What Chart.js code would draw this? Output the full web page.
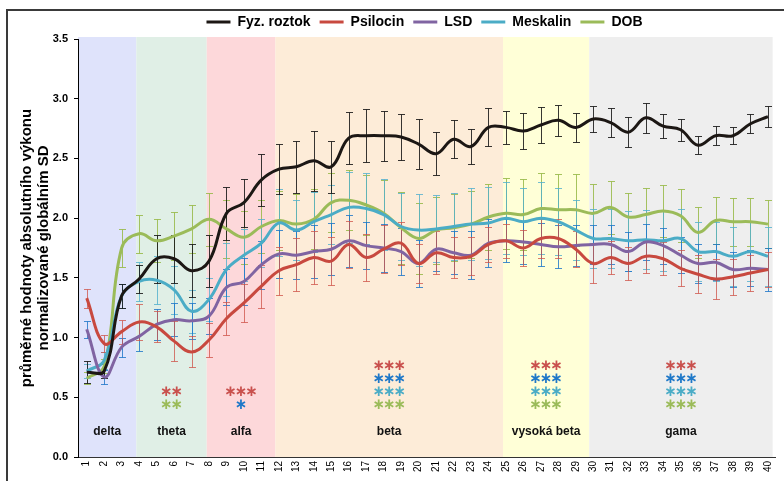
<!DOCTYPE html>
<html>
<head>
<meta charset="UTF-8">
<title>EEG spektrum</title>
<script src="https://cdn.jsdelivr.net/npm/chart.js"></script>
<style>
	body { margin: 0; background: #fff; }
	#chartArea { width: 784px; height: 481px; }
</style>
</head>
<body>
<div id="chartArea">
	<canvas id="myChart" width="784" height="481"></canvas>
</div>
<script>
// osa x - frekvence (Hz)
var xLabels = [1, 2, 3, 4, 5, 6, 7, 8, 9, 10, 11, 12, 13, 14, 15, 16, 17, 18, 19, 20,
	21, 22, 23, 24, 25, 26, 27, 28, 29, 30, 31, 32, 33, 34, 35, 36, 37, 38, 39, 40];

var seriesNames = ['Fyz. roztok', 'Psilocin', 'LSD', 'Meskalin', 'DOB'];

var fyzRoztok = [0.71, 0.72, 1.35, 1.49, 1.66, 1.66, 1.56, 1.64, 2.04, 2.13, 2.32, 2.41, 2.43, 2.48, 2.43, 2.67, 2.69, 2.69, 2.68, 2.62,
	2.54, 2.66, 2.60, 2.76, 2.76, 2.73, 2.78, 2.82, 2.76, 2.83, 2.80, 2.72, 2.84, 2.77, 2.74, 2.61, 2.69, 2.69, 2.79, 2.85];
var psilocin = [1.33, 0.95, 1.05, 1.13, 1.09, 0.97, 0.88, 0.98, 1.16, 1.29, 1.43, 1.56, 1.61, 1.67, 1.64, 1.78, 1.67, 1.74, 1.79, 1.62,
	1.71, 1.67, 1.68, 1.78, 1.81, 1.75, 1.83, 1.83, 1.74, 1.62, 1.67, 1.62, 1.68, 1.66, 1.58, 1.53, 1.49, 1.51, 1.54, 1.57];
var lsd = [1.07, 0.67, 0.92, 1.01, 1.11, 1.15, 1.14, 1.18, 1.42, 1.47, 1.61, 1.70, 1.69, 1.72, 1.74, 1.81, 1.77, 1.75, 1.72, 1.62,
	1.74, 1.71, 1.69, 1.79, 1.81, 1.80, 1.78, 1.76, 1.77, 1.78, 1.78, 1.72, 1.80, 1.77, 1.69, 1.62, 1.63, 1.57, 1.58, 1.57];
var meskalin = [0.72, 0.81, 1.35, 1.47, 1.48, 1.40, 1.22, 1.32, 1.57, 1.69, 1.79, 1.96, 1.90, 1.97, 2.03, 2.09, 2.08, 2.03, 1.93, 1.90,
	1.91, 1.93, 1.95, 1.96, 2.00, 1.97, 2.00, 1.97, 1.90, 1.83, 1.83, 1.81, 1.82, 1.81, 1.83, 1.72, 1.72, 1.68, 1.72, 1.68];
var dob = [0.66, 0.76, 1.75, 1.87, 1.81, 1.85, 1.91, 1.99, 1.91, 1.84, 1.93, 1.98, 1.95, 1.99, 2.13, 2.15, 2.11, 2.04, 1.92, 1.83,
	1.90, 1.92, 1.95, 2.01, 2.04, 2.03, 2.08, 2.07, 2.07, 2.04, 2.09, 2.01, 2.03, 2.06, 2.02, 1.88, 1.98, 1.97, 1.97, 1.95];

// smerodatne odchylky (chybove usecky)
var fyzRoztokSD = [0.09, 0.06, 0.10, 0.12, 0.20, 0.20, 0.22, 0.22, 0.22, 0.20, 0.22, 0.21, 0.22, 0.25, 0.22, 0.22, 0.22, 0.21, 0.19, 0.21,
	0.18, 0.16, 0.15, 0.16, 0.14, 0.15, 0.15, 0.13, 0.12, 0.11, 0.12, 0.125, 0.125, 0.10, 0.09, 0.075, 0.08, 0.07, 0.08, 0.09];
var psilocinSD = [0.08, 0.07, 0.10, 0.15, 0.13, 0.17, 0.13, 0.14, 0.14, 0.16, 0.18, 0.20, 0.22, 0.22, 0.20, 0.20, 0.20, 0.20, 0.18, 0.16,
	0.18, 0.17, 0.16, 0.15, 0.14, 0.15, 0.16, 0.16, 0.15, 0.16, 0.14, 0.14, 0.14, 0.14, 0.15, 0.16, 0.17, 0.15, 0.15, 0.15];
var lsdSD = [0.07, 0.06, 0.08, 0.12, 0.13, 0.14, 0.15, 0.15, 0.15, 0.20, 0.20, 0.20, 0.20, 0.22, 0.22, 0.22, 0.20, 0.20, 0.20, 0.20,
	0.18, 0.18, 0.20, 0.20, 0.18, 0.18, 0.18, 0.18, 0.17, 0.16, 0.16, 0.16, 0.15, 0.15, 0.15, 0.16, 0.15, 0.15, 0.15, 0.18];
var meskalinSD = [0.06, 0.07, 0.10, 0.16, 0.20, 0.20, 0.18, 0.18, 0.22, 0.22, 0.20, 0.28, 0.25, 0.25, 0.25, 0.30, 0.30, 0.30, 0.28, 0.30,
	0.28, 0.28, 0.30, 0.30, 0.30, 0.28, 0.30, 0.28, 0.25, 0.25, 0.25, 0.25, 0.25, 0.25, 0.25, 0.25, 0.25, 0.25, 0.25, 0.25];
var dobSD = [0.05, 0.06, 0.16, 0.16, 0.18, 0.20, 0.20, 0.22, 0.24, 0.22, 0.22, 0.25, 0.25, 0.25, 0.25, 0.25, 0.25, 0.28, 0.30, 0.30,
	0.28, 0.28, 0.28, 0.28, 0.30, 0.30, 0.30, 0.30, 0.30, 0.25, 0.22, 0.20, 0.22, 0.22, 0.22, 0.21, 0.20, 0.20, 0.20, 0.20];

var yTicks = [0, 0.5, 1, 1.5, 2, 2.5, 3, 3.5];

// frekvencni pasma
var bandNames = ['delta', 'theta', 'alfa', 'beta', 'vysoká beta', 'gama'];
var bandFrom = [0.5, 3.84, 7.87, 11.8, 24.83, 29.77];
var bandTo = [3.84, 7.87, 11.8, 24.83, 29.77, 40.27];
// signifikance vuci fyz. roztoku: Psilocin, LSD, Meskalin, DOB
var bandStars = [
	['', '', '', ''],
	['**', '', '', '**'],
	['***', '*', '', ''],
	['***', '***', '***', '***'],
	['***', '***', '***', '***'],
	['***', '***', '***', '***']
];

var lineColors = ['#1c1714', '#c8493f', '#8064a2', '#4bacc6', '#9bbb59'];
var errColors = ['rgba(20,20,20,0.85)', 'rgba(205,80,70,0.75)', 'rgba(25,115,200,0.8)', 'rgba(80,175,205,0.8)', 'rgba(150,185,70,0.85)'];
var starColors = ['#c9504d', '#1f78c8', '#4bacc6', '#9bbb59'];
var bandColors = ['#dfe3fb', '#e0efe6', '#fdd8da', '#fdecd8', '#ffffd7', '#eeeeee'];

var values = [fyzRoztok, psilocin, lsd, meskalin, dob];
var errors = [fyzRoztokSD, psilocinSD, lsdSD, meskalinSD, dobSD];

var frame = {
	id: 'frame',
	beforeDraw: function(chart) {
		var ctx = chart.ctx;
		var xs = chart.scales.x, ys = chart.scales.y;
		var area = chart.chartArea;
		ctx.save();
		ctx.fillStyle = '#3a3a3a';
		ctx.fillRect(6, 9, chart.width, 2);
		ctx.fillRect(6, 9, 2, chart.height);

		// pasma
		for (var i = 0; i < bandNames.length; i++) {
			var x1 = xs.getPixelForValue(bandFrom[i]);
			var x2 = xs.getPixelForValue(bandTo[i]);
			ctx.fillStyle = bandColors[i];
			ctx.fillRect(x1, area.top - 2, x2 - x1, area.bottom - area.top + 2);
		}
		for (var i = 0; i < bandNames.length; i++) {
			var cx = (xs.getPixelForValue(bandFrom[i]) + xs.getPixelForValue(bandTo[i])) / 2;
			ctx.fillStyle = '#111';
			ctx.font = 'bold 12px "Liberation Sans", Arial, sans-serif';
			ctx.textAlign = 'center';
			ctx.textBaseline = 'middle';
			ctx.fillText(bandNames[i], cx, area.bottom - 25);

			// hvezdicky - zdola nahoru
			var rows = bandStars[i].map(function(s, k) { return { s: s, c: starColors[k] }; })
				.filter(function(r) { return r.s; });
			var row = 0;
			for (var k = rows.length - 1; k >= 0; k--) {
				var y = area.bottom - 52 - row * 13;
				ctx.fillStyle = rows[k].c;
				ctx.font = 'bold 15px "DejaVu Sans", sans-serif';
				var n = rows[k].s.length;
				for (var j = 0; j < n; j++) {
					ctx.fillText('\u2217', cx + (j - (n - 1) / 2) * 10.5, y);
				}
				row++;
			}
		}
		ctx.restore();

		// legenda posunout doprava jako v predloze
		if (chart.legend && !chart.legend._moved) {
			chart.legend.left += 35;
			chart.legend.right += 35;
			chart.legend._moved = true;
		}
	}
};

var errorBars = {
	id: 'errorBars',
	beforeDatasetsDraw: function(chart) {
		var ctx = chart.ctx;
		var xs = chart.scales.x, ys = chart.scales.y;
		ctx.save();
		ctx.lineWidth = 1;
		for (var s = values.length - 1; s >= 0; s--) {
			ctx.strokeStyle = errColors[s];
			for (var i = 0; i < xLabels.length; i++) {
				var px = Math.round(xs.getPixelForValue(xLabels[i])) + 0.5;
				var top = Math.round(ys.getPixelForValue(values[s][i] + errors[s][i])) + 0.5;
				var bot = Math.round(ys.getPixelForValue(values[s][i] - errors[s][i])) + 0.5;
				ctx.beginPath();
				ctx.moveTo(px, top); ctx.lineTo(px, bot);
				ctx.moveTo(px - 3.5, top); ctx.lineTo(px + 3.5, top);
				ctx.moveTo(px - 3.5, bot); ctx.lineTo(px + 3.5, bot);
				ctx.stroke();
			}
		}
		ctx.restore();
	}
};

var legendFit = {
	id: 'legendFit',
	beforeLayout: function(chart) {
		var lg = chart.legend;
		if (lg && !lg._patched) {
			var f = lg.fit.bind(lg);
			lg.fit = function() { f(); this.height = 33; };
			lg._patched = true;
		}
		if (lg) lg._moved = false;
	}
};

var datasets = seriesNames.map(function(name, s) {
	return {
		label: name,
		data: xLabels.map(function(x, i) { return { x: x, y: values[s][i] }; }),
		borderColor: lineColors[s],
		backgroundColor: lineColors[s],
		borderWidth: 3,
		pointRadius: 0,
		tension: 0.4,
		fill: false
	};
});

var ctx = document.getElementById('myChart').getContext('2d');
var myChart = new Chart(ctx, {
	type: 'line',
	data: { datasets: datasets },
	options: {
		responsive: false,
		animation: false,
		layout: { padding: { left: 0, right: 5, top: 6, bottom: 0 } },
		plugins: {
			legend: {
				position: 'top',
				labels: {
					usePointStyle: true,
					pointStyle: 'line',
					pointStyleWidth: 24,
					padding: 9,
					color: '#000',
					font: { family: '"Liberation Sans", Arial, sans-serif', size: 14, weight: 'bold' }
				}
			},
			tooltip: { enabled: false }
		},
		scales: {
			x: {
				type: 'linear',
				min: 0.5,
				max: 40.45,
				afterBuildTicks: function(scale) {
					scale.ticks = xLabels.map(function(v) { return { value: v }; });
				},
				afterFit: function(scale) { scale.height = 24; },
				grid: { display: false, drawTicks: false },
				border: { display: true, color: '#333', width: 1 },
				ticks: {
					autoSkip: false,
					minRotation: 90,
					maxRotation: 90,
					padding: 4,
					color: '#000',
					font: { family: '"Liberation Sans", Arial, sans-serif', size: 10 }
				}
			},
			y: {
				min: 0,
				max: 3.5,
				afterBuildTicks: function(scale) {
					scale.ticks = yTicks.map(function(v) { return { value: v }; });
				},
				afterFit: function(scale) { scale.width = 78; },
				grid: { display: true, drawOnChartArea: false, drawTicks: true, tickLength: 4, color: '#000' },
				border: { display: true, color: '#000', width: 1 },
				ticks: {
					padding: 6,
					color: '#000',
					font: { family: '"Liberation Sans", Arial, sans-serif', size: 11, weight: 'bold' },
					callback: function(v) { return Number(v).toFixed(1); }
				},
				title: {
					display: true,
					text: ['průměrné hodnoty absolutního výkonu', 'normalizované globálním SD'],
					color: '#000',
					padding: { top: 19, bottom: 0 },
					font: { family: '"Liberation Sans", Arial, sans-serif', size: 15, weight: 'bold', lineHeight: 1.1 }
				}
			}
		}
	},
	plugins: [legendFit, frame, errorBars]
});
</script>
</body>
</html>
